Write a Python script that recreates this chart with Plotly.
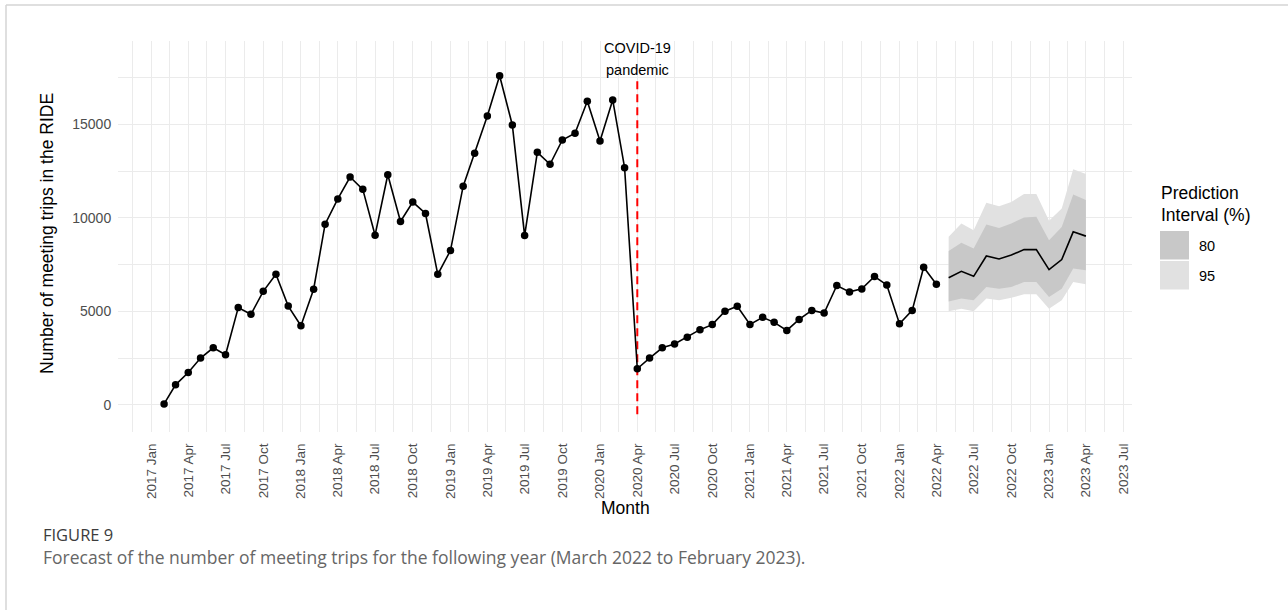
import pandas as pd
import plotly.graph_objects as go

# ---------------- data ----------------
observed_start = "2017-02-01"
observed_trips = [
    50, 1070, 1730, 2500, 3050, 2680, 5200, 4840, 6070, 6980, 5280,
    4230, 6180, 9660, 11010, 12180, 11520, 9070, 12300, 9800, 10840, 10230, 6980,
    8250, 11690, 13450, 15440, 17590, 14960, 9050, 13500, 12860, 14160, 14520, 16230,
    14100, 16300, 12680, 1930, 2500, 3050, 3250, 3620, 4020, 4290, 5010, 5270,
    4300, 4680, 4410, 3980, 4570, 5050, 4910, 6380, 6040, 6200, 6860, 6410,
    4340, 5050, 7360, 6450,
]
forecast_start = "2022-05-01"
forecast_mean = [6800, 7140, 6870, 7960, 7800, 8010, 8300, 8300, 7230, 7770, 9250, 9020]
lower_80 = [5530, 5680, 5590, 6300, 6210, 6300, 6570, 6570, 5760, 6210, 7290, 7200]
upper_80 = [8230, 8660, 8360, 9640, 9460, 9700, 10020, 10050, 8800, 9510, 11250, 10950]
lower_95 = [5010, 5140, 5010, 5680, 5590, 5730, 5910, 5910, 5140, 5590, 6570, 6450]
upper_95 = [8980, 9700, 9340, 10800, 10620, 10850, 11270, 11270, 9840, 10500, 12590, 12340]

covid_date = "2020-04-01"
covid_line_y = [-500, 17500]
covid_label_y = 18500

tick_dates = pd.date_range("2017-01-01", "2023-07-01", freq="3MS")
tick_labels = [d.strftime("%Y %b") for d in tick_dates]
y_ticks = [0, 5000, 10000, 15000]
y_tick_labels = ["0", "5000", "10000", "15000"]

obs_dates = pd.date_range(observed_start, periods=len(observed_trips), freq="MS")
fc_dates = pd.date_range(forecast_start, periods=len(forecast_mean), freq="MS")

# ggplot-like 5% expansion
x_min, x_max = obs_dates[0], fc_dates[-1]
x_pad = (x_max - x_min) * 0.05
x_range = [x_min - x_pad, x_max + x_pad]
y_lo, y_hi = -500, 18500
y_pad = (y_hi - y_lo) * 0.05
y_range = [y_lo - y_pad, y_hi + y_pad]

all_major = pd.date_range("2016-10-01", "2023-10-01", freq="3MS")
minor_dates = [all_major[i] + (all_major[i + 1] - all_major[i]) / 2 for i in range(len(all_major) - 1)]
minor_dates = [d for d in minor_dates if x_range[0] <= d <= x_range[1]]

FONT = "Liberation Sans, Arial, sans-serif"
GRID = "#ebebeb"

fig = go.Figure()

# 95% band
fig.add_trace(go.Scatter(
    x=list(fc_dates) + list(fc_dates[::-1]),
    y=upper_95 + lower_95[::-1],
    fill="toself", fillcolor="#e1e1e1", line=dict(width=0),
    mode="lines", hoverinfo="skip", showlegend=False,
))
# 80% band
fig.add_trace(go.Scatter(
    x=list(fc_dates) + list(fc_dates[::-1]),
    y=upper_80 + lower_80[::-1],
    fill="toself", fillcolor="#c8c8c8", line=dict(width=0),
    mode="lines", hoverinfo="skip", showlegend=False,
))
# forecast mean
fig.add_trace(go.Scatter(
    x=fc_dates, y=forecast_mean, mode="lines",
    line=dict(color="black", width=1.6), showlegend=False,
))
# red dashed covid line
fig.add_trace(go.Scatter(
    x=[covid_date, covid_date], y=covid_line_y, mode="lines",
    line=dict(color="#ff0000", width=2, dash="8px,5px"), showlegend=False,
))
# observed
fig.add_trace(go.Scatter(
    x=obs_dates, y=observed_trips, mode="lines+markers",
    line=dict(color="black", width=1.6),
    marker=dict(color="black", size=7.5),
    showlegend=False,
))

annotations = [
    dict(x=covid_date, y=covid_label_y, xref="x", yref="y", text="COVID-19",
         showarrow=False, yshift=11, font=dict(size=14.5, color="black", family=FONT)),
    dict(x=covid_date, y=covid_label_y, xref="x", yref="y", text="pandemic",
         showarrow=False, yshift=-11, font=dict(size=14.5, color="black", family=FONT)),
]

L, R, T, B = 118, 156, 41, 178
W, H = 1288, 610
pw, ph = W - L - R, H - T - B


def px(xp):
    return (xp - L) / pw


def py(yp):
    return (H - B - yp) / ph


annotations += [
    dict(x=px(625), y=py(508), xref="paper", yref="paper", text="Month", showarrow=False,
         xanchor="center", yanchor="middle", font=dict(size=17.5, color="black", family=FONT)),
    dict(x=px(47), y=py(234), xref="paper", yref="paper", text="Number of meeting trips in the RIDE",
         showarrow=False, textangle=-90, xanchor="center", yanchor="middle",
         font=dict(size=17.5, color="black", family=FONT)),
    dict(x=px(1159), y=py(193), xref="paper", yref="paper", text="Prediction", showarrow=False,
         xanchor="left", yanchor="middle", font=dict(size=17.5, color="black", family=FONT)),
    dict(x=px(1159), y=py(215), xref="paper", yref="paper", text="Interval (%)", showarrow=False,
         xanchor="left", yanchor="middle", font=dict(size=17.5, color="black", family=FONT)),
    dict(x=px(1197), y=py(246), xref="paper", yref="paper", text="80", showarrow=False,
         xanchor="left", yanchor="middle", font=dict(size=14.5, color="black", family=FONT)),
    dict(x=px(1197), y=py(276), xref="paper", yref="paper", text="95", showarrow=False,
         xanchor="left", yanchor="middle", font=dict(size=14.5, color="black", family=FONT)),
    dict(x=px(41), y=py(534), xref="paper", yref="paper", text="FIGURE 9", showarrow=False,
         xanchor="left", yanchor="middle",
         font=dict(size=16.5, color="#3c3c3c", family="Open Sans")),
    dict(x=px(41), y=py(557), xref="paper", yref="paper",
         text="Forecast of the number of meeting trips for the following year (March 2022 to February 2023).",
         showarrow=False, xanchor="left", yanchor="middle",
         font=dict(size=17.5, color="#666666", family="Open Sans")),
]

shapes = [
    dict(type="rect", xref="paper", yref="paper", x0=px(1160), x1=px(1189), y0=py(259.5), y1=py(231),
         fillcolor="#c8c8c8", line=dict(width=0)),
    dict(type="rect", xref="paper", yref="paper", x0=px(1160), x1=px(1189), y0=py(289.5), y1=py(261),
         fillcolor="#e1e1e1", line=dict(width=0)),
    dict(type="line", xref="paper", yref="paper", x0=px(6), x1=px(1288), y0=py(5), y1=py(5),
         line=dict(color="#d4d4d4", width=1.5)),
    dict(type="line", xref="paper", yref="paper", x0=px(6), x1=px(6), y0=py(5), y1=py(610),
         line=dict(color="#d4d4d4", width=1.5)),
]

fig.update_layout(
    width=W, height=H,
    margin=dict(l=L, r=R, t=T, b=B, pad=0),
    paper_bgcolor="white", plot_bgcolor="white",
    font=dict(family=FONT),
    annotations=annotations,
    shapes=shapes,
    showlegend=False,
)
fig.update_xaxes(
    type="date", range=x_range,
    tickmode="array", tickvals=list(tick_dates), ticktext=tick_labels,
    tickangle=-90, tickfont=dict(size=13.5, color="#4d4d4d", family=FONT),
    ticks="outside", ticklen=5, tickcolor="rgba(0,0,0,0)",
    showgrid=True, gridcolor=GRID, gridwidth=1.4,
    minor=dict(tickmode="array", tickvals=minor_dates, showgrid=True, gridcolor=GRID, gridwidth=0.8),
    zeroline=False, showline=False,
)
fig.update_yaxes(
    range=y_range, tickmode="array", tickvals=y_ticks, ticktext=y_tick_labels,
    tickfont=dict(size=14, color="#4d4d4d", family=FONT),
    ticks="outside", ticklen=3, tickcolor="rgba(0,0,0,0)",
    showgrid=True, gridcolor=GRID, gridwidth=1.4,
    minor=dict(tickmode="array", tickvals=[2500, 7500, 12500, 17500], showgrid=True, gridcolor=GRID, gridwidth=0.8),
    zeroline=False, showline=False,
)

fig.write_html("out.html")
